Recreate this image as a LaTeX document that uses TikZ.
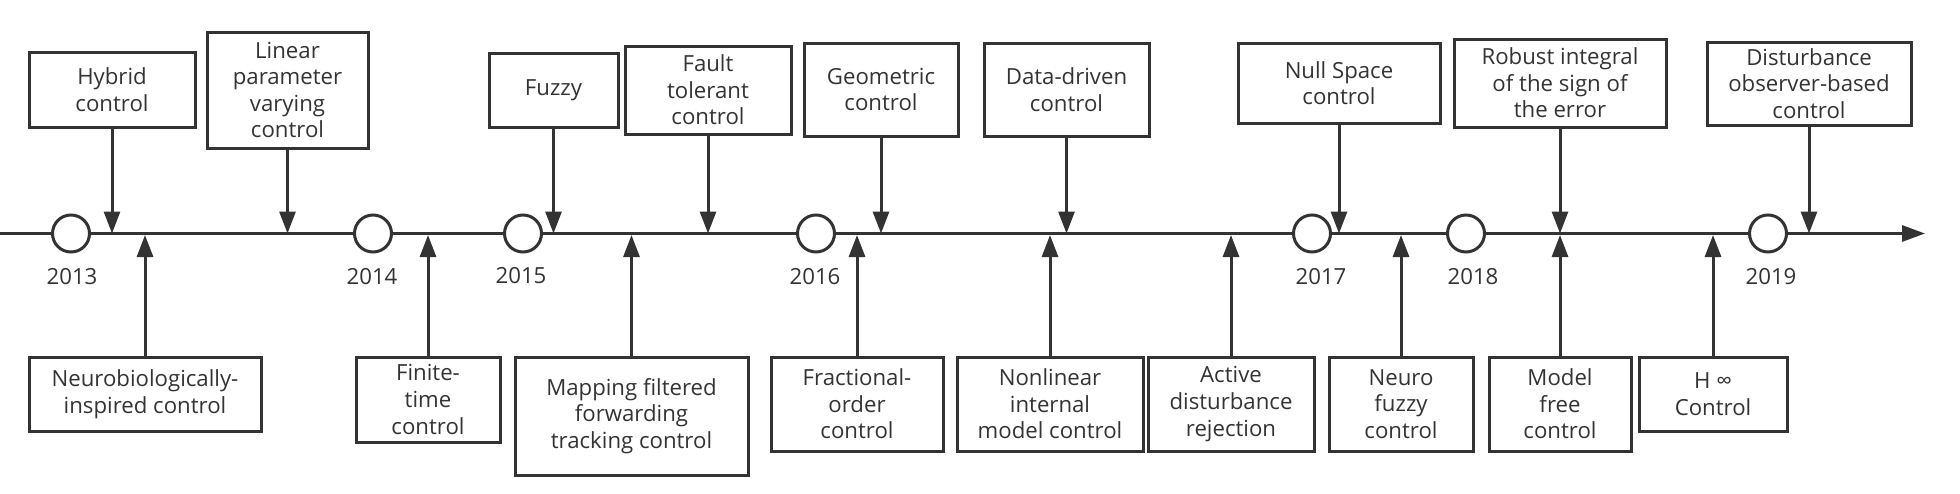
\documentclass[tikz,border=0pt]{standalone}
\usepackage{fontspec}
\setmainfont{Open Sans}
\usetikzlibrary{arrows.meta}
\definecolor{ink}{HTML}{333333}
\begin{document}
\begin{tikzpicture}[x=0.5pt,y=-0.5pt,
  txt/.style={text=ink, font=\fontsize{11.1}{13.3}\selectfont},
  box/.style={txt, draw=ink, line width=1.5pt, rectangle, align=center, inner sep=0pt},
  arr/.style={draw=ink, line width=1.5pt, -{Triangle[length=11pt,width=8pt]}},
  yr/.style={circle, draw=ink, fill=white, line width=1.5pt, minimum size=18.5pt, inner sep=0pt},
  ylab/.style={txt, inner sep=0pt}]
\useasboundingbox (0,0) rectangle (1960,493);
% timeline
\coordinate (tl0) at (0,233.5);
\coordinate (tl1) at (1925,233.5);
\draw[arr, -{Triangle[length=11.5pt,width=8pt]}] (tl0) -- (tl1);
% year circles
\node[yr] (c2013) at (71,233.5) {};
\node[yr] (c2014) at (373,233.5) {};
\node[yr] (c2015) at (523,233.5) {};
\node[yr] (c2016) at (816,233.5) {};
\node[yr] (c2017) at (1312,233.5) {};
\node[yr] (c2018) at (1466,233.5) {};
\node[yr] (c2019) at (1768,233.5) {};
\node[ylab] (y2013) at (72,277) {2013};
\node[ylab] (y2014) at (372,277) {2014};
\node[ylab] (y2015) at (521,276) {2015};
\node[ylab] (y2016) at (815,277) {2016};
\node[ylab] (y2017) at (1321,277) {2017};
\node[ylab] (y2018) at (1473,277) {2018};
\node[ylab] (y2019) at (1771,277) {2019};
% top boxes
\node[box, minimum width=83pt, minimum height=37.5pt] (hyb) at (112,89.5) {Hybrid\\control};
\node[box, minimum width=80.5pt, minimum height=58pt] (lpv) at (287.5,90) {Linear\\parameter\\varying\\control};
\node[box, minimum width=64.5pt, minimum height=37pt] (fuz) at (553.5,90) {Fuzzy};
\node[box, minimum width=83pt, minimum height=44pt] (ftc) at (708,90) {Fault\\tolerant\\control};
\node[box, minimum width=77pt, minimum height=46.5pt] (geo) at (881,89.5) {Geometric\\control};
\node[box, minimum width=82.5pt, minimum height=46.5pt] (ddc) at (1066.5,89.5) {Data-driven\\control};
\node[box, minimum width=101pt, minimum height=40pt] (nsc) at (1339,83) {Null Space\\control};
\node[box, minimum width=106pt, minimum height=44pt] (rise) at (1560,83) {Robust integral\\of the sign of\\the error};
\node[box, minimum width=102pt, minimum height=41.5pt] (dob) at (1809,83.5) {Disturbance\\observer-based\\control};
% bottom boxes
\node[box, minimum width=116pt, minimum height=37pt] (neu) at (145,394) {Neurobiologically-\\inspired control};
\node[box, minimum width=72pt, minimum height=42.5pt] (fin) at (428,399.5) {Finite-\\time\\control};
\node[box, minimum width=116.5pt, minimum height=59pt] (map) at (631.5,416) {Mapping filtered\\forwarding\\tracking control};
\node[box, minimum width=86pt, minimum height=47pt] (fra) at (857,404) {Fractional-\\order\\control};
\node[box, minimum width=93pt, minimum height=47pt] (nim) at (1050,404) {Nonlinear\\internal\\model control};
\node[box, minimum width=83pt, minimum height=47pt] (adr) at (1231,404) {Active\\disturbance\\rejection};
\node[box, minimum width=72pt, minimum height=47pt] (nfc) at (1401,404) {Neuro\\fuzzy\\control};
\node[box, minimum width=71pt, minimum height=47pt] (mfc) at (1560,404) {Model\\free\\control};
\node[box, minimum width=74pt, minimum height=37pt] (hinf) at (1713,394) {H ∞\\Control};
% connectors from top
\foreach \n in {hyb,lpv,fuz,ftc,geo,ddc,nsc,rise,dob}
  \draw[arr] (\n.south) -- (\n.south |- tl0);
% connectors from bottom
\foreach \n in {neu,fin,map,fra,nim,adr,nfc,mfc,hinf}
  \draw[arr] (\n.north) -- ([yshift=-0.75pt]\n.north |- tl0);
\end{tikzpicture}
\end{document}
